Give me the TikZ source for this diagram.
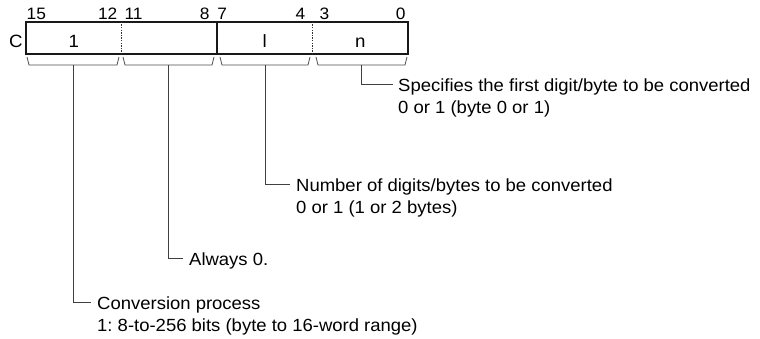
\documentclass[tikz,border=0pt]{standalone}
\usepackage{fontspec}
\setmainfont[FakeStretch=1.05]{Liberation Sans}
\frenchspacing
\begin{document}
\begin{tikzpicture}[x=1pt,y=-1pt,
  cell/.style={minimum width=95.5pt,minimum height=32pt,inner sep=0pt,text height=18pt,text depth=0pt,font=\fontsize{17.8}{22}\selectfont},
  bitnum/.style={inner sep=0pt,font=\fontsize{16.5}{18}\selectfont},
  desc/.style={inner sep=0pt,anchor=base west,text height=13pt,text depth=0pt,font=\fontsize{17.6}{22}\selectfont},
  frame/.style={line width=1.8pt,black!90},
  divider/.style={line width=0.8pt,black!80,dash pattern=on 1.3pt off 1.3pt},
  bracestyle/.style={line width=0.8pt,black!70},
  leader/.style={line width=0.8pt,black!75}]
\useasboundingbox (0,0) rectangle (760,338);
% cells
\node[cell] (c3) at (73.75,38) {1};
\node[cell] (c2) at (169.25,38) {};
\node[cell] (c1) at (264.75,38) {l};
\node[cell] (c0) at (360.25,38) {n};
\draw[frame] (c3.north west) rectangle (c0.south east);
\draw[frame] (c2.north east) -- (c2.south east);
\draw[divider] (c3.north east) -- (c3.south east);
\draw[divider] (c1.north east) -- (c1.south east);
% word label
\node[cell,anchor=base west,minimum width=0pt,minimum height=0pt,text height=0pt] (w) at (9,47) {C};
% bit numbers
\node[bitnum,anchor=base west] (b15) at (26.5,19) {15};
\node[bitnum,anchor=base east] (b12) at (117.5,19) {12};
\node[bitnum,anchor=base west] (b11) at (124.3,19) {11};
\node[bitnum,anchor=base east] (b8) at (209.7,19) {8};
\node[bitnum,anchor=base west] (b7) at (217.2,19) {7};
\node[bitnum,anchor=base east] (b4) at (305.5,19) {4};
\node[bitnum,anchor=base west] (b3) at (319.3,19) {3};
\node[bitnum,anchor=base east] (b0) at (405.7,19) {0};
% braces
\draw[bracestyle] (27,57) -- (29,65) -- coordinate[pos=0.5] (k3) (117,65) -- (119,57);
\draw[bracestyle] (123,57) -- (125,65) -- coordinate[pos=0.5] (k2) (212,65) -- (214,57);
\draw[bracestyle] (220,57) -- (222,65) -- coordinate[pos=0.5] (k1) (308,65) -- (310,57);
\draw[bracestyle] (316,57) -- (318,65) -- coordinate[pos=0.5] (k0) (405,65) -- (407,57);
% descriptions
\node[desc] (t0a) at (398,91) {Specifies the first digit/byte to be converted};
\node[desc] (t0b) at (398,113) {0 or 1 (byte 0 or 1)};
\node[desc] (t1a) at (296,191) {Number of digits/bytes to be converted};
\node[desc] (t1b) at (296,213) {0 or 1 (1 or 2 bytes)};
\node[desc] (t2) at (189,265) {Always 0.};
\node[desc] (t3a) at (97,309) {Conversion process};
\node[desc] (t3b) at (97,331) {1: 8-to-256 bits (byte to 16-word range)};
% leaders
\draw[leader] (k0) |- ([xshift=-5pt]t0a.west);
\draw[leader] (k1) |- ([xshift=-6pt]t1a.west);
\draw[leader] (k2) |- ([xshift=-6pt]t2.west);
\draw[leader] (k3) |- ([xshift=-6pt]t3a.west);
\end{tikzpicture}
\end{document}
